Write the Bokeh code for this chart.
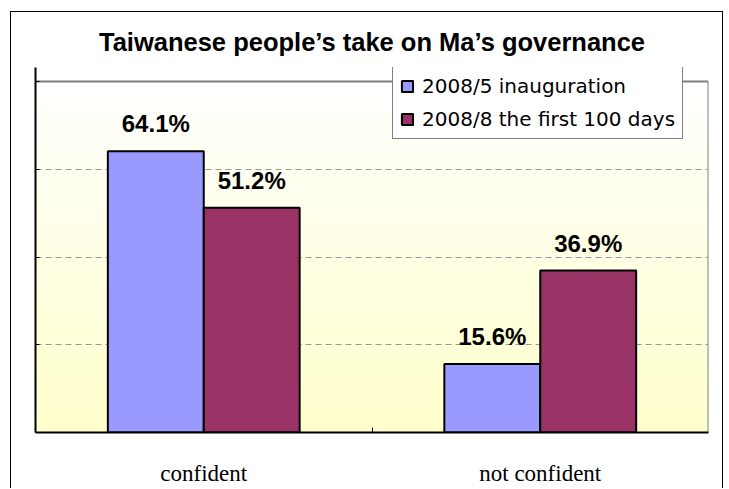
import numpy as np
from bokeh.plotting import figure
from bokeh.models import Range1d, FixedTicker, ColumnDataSource, LabelSet
from bokeh.core.properties import value
from bokeh.embed import file_html
from bokeh.resources import INLINE

# ---- data ----
categories = ["confident", "not confident"]
series_names = ["2008/5 inauguration", "2008/8 the first 100 days"]
inauguration = [64.1, 15.6]
first_100_days = [51.2, 36.9]
series_colors = ["#9999FF", "#993366"]
y_ticks = [0, 20, 40, 60, 80]
y_max = 80
title_text = "Taiwanese people\u2019s take on Ma\u2019s governance"

bar_w = 0.285
offsets = [-bar_w / 2, bar_w / 2]
centers = [i + 0.5 for i in range(len(categories))]
n_cat = len(categories)

# frame extends a little above the value axis top so the legend can overlap it
frame_h_px = 365
axis_h_px = 351
y_top = y_max * frame_h_px / axis_h_px

p = figure(width=713, height=477, output_backend="svg", toolbar_location=None,
           x_range=Range1d(0, n_cat), y_range=Range1d(0, y_top),
           min_border_left=24, min_border_right=16, min_border_top=55, min_border_bottom=57,
           title=title_text)
p.styles = {"margin-left": "10px", "margin-top": "11px",
            "border-top": "1px solid black", "border-left": "1px solid black",
            "border-right": "1px solid black"}
p.background_fill_color = "white"
p.border_fill_color = "white"
p.outline_line_color = None

p.title.align = "center"
p.title.text_font = "Liberation Sans"
p.title.text_font_style = "bold"
p.title.text_font_size = "25.5px"
p.title.text_color = "black"
p.title.standoff = 24

# gradient background
n = 200
img = np.empty((n, 1), dtype=np.uint32)
view = img.view(dtype=np.uint8).reshape((n, 1, 4))
t = np.linspace(0, 1, n)
view[:, 0, 0] = 255
view[:, 0, 1] = 255
view[:, 0, 2] = (204 + (255 - 204) * t).astype(np.uint8)
view[:, 0, 3] = 255
p.image_rgba(image=[img], x=0, y=0, dw=n_cat, dh=y_max, level="image")

# plot-area frame (top and right, grey)
p.segment(x0=[0, n_cat], y0=[y_max, 0], x1=[n_cat, n_cat], y1=[y_max, y_max],
          line_color="#808080", line_width=2, level="underlay")

series = [inauguration, first_100_days]
for k, vals in enumerate(series):
    xs = [c + offsets[k] for c in centers]
    src = ColumnDataSource(dict(x=xs, top=vals, txt=[f"{v:.1f}%" for v in vals]))
    p.vbar(x="x", top="top", bottom=0, width=bar_w, source=src,
           fill_color=series_colors[k], line_color="black", line_width=2,
           legend_label=series_names[k])
    p.add_layout(LabelSet(x="x", y="top", text="txt", source=src, y_offset=19,
                          text_align="center", text_baseline="alphabetic",
                          text_font=value("Liberation Sans"), text_font_style="bold",
                          text_font_size="24px", text_color="black"))

# axes
xa = p.xaxis[0]
xa.ticker = FixedTicker(ticks=centers, minor_ticks=[1])
xa.major_label_overrides = {c: lab for c, lab in zip(centers, categories)}
xa.major_tick_line_color = None
xa.major_tick_out = 0
xa.major_tick_in = 0
xa.minor_tick_line_color = "black"
xa.minor_tick_in = 5
xa.minor_tick_out = 0
xa.axis_line_color = "black"
xa.axis_line_width = 2
xa.major_label_text_font = "Liberation Serif"
xa.major_label_text_font_size = "23px"
xa.major_label_text_color = "black"
xa.major_label_standoff = 28

ya = p.yaxis[0]
ya.ticker = FixedTicker(ticks=y_ticks)
ya.major_label_overrides = {v: "" for v in y_ticks}
ya.major_label_standoff = 0
ya.major_tick_in = 4
ya.major_tick_out = 0
ya.major_tick_line_color = "black"
ya.minor_tick_line_color = None
ya.axis_line_color = "black"
ya.axis_line_width = 2

p.xgrid.grid_line_color = None
p.ygrid.ticker = FixedTicker(ticks=y_ticks[1:-1])
p.ygrid.grid_line_color = "#999999"
p.ygrid.grid_line_dash = "6 4"
p.ygrid.grid_line_width = 1

lg = p.legend[0]
lg.location = (357, 293)
lg.label_text_font = "DejaVu Sans"
lg.label_text_font_size = "20px"
lg.label_text_color = "black"
lg.glyph_width = 14
lg.glyph_height = 14
lg.label_standoff = 8
lg.padding = 7
lg.spacing = 9
lg.margin = 0
lg.border_line_color = "black"
lg.border_line_width = 1
lg.background_fill_color = "white"
lg.background_fill_alpha = 1

open("out.html", "w").write(file_html(p, INLINE))
